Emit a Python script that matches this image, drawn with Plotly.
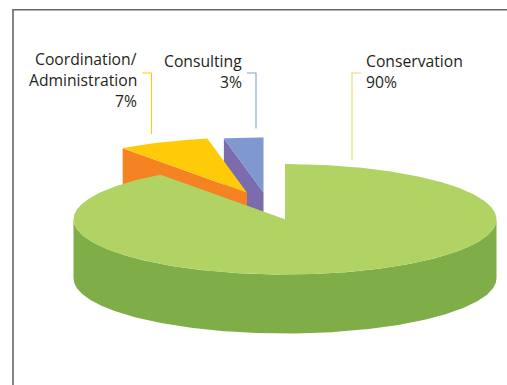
import numpy as np
import plotly.graph_objects as go

# Budget shares
categories = ["Conservation", "Coordination/Administration", "Consulting"]
values = [90, 7, 3]

top_colors = ["#B0D364", "#FFCB08", "#7F98CF"]
side_colors = ["#7FAE48", "#F58322", "#7B6CAD"]
leader_colors = ["#D5E26E", "#FFCB08", "#7FA3DA"]

# Pie projection, in page pixels
CX, CY = 285.0, 219.3
RX, RY = 211.5, 55.2
DEPTH = 59.0
# Pull-out of each slice from the centre
EXPLODE_X = [0.0, -38.0, -21.5]
EXPLODE_Y = [0.0, -26.5, -26.7]


def rim(angle, cx, cy):
    """Point on the tilted rim; angle in degrees clockwise from 12 o'clock."""
    a = np.radians(angle)
    return cx + RX * np.sin(a), cy - RY * np.cos(a)


def arc(start, end, cx, cy):
    ang = np.linspace(start, end, max(2, int(abs(end - start)) * 2))
    xs, ys = rim(ang, cx, cy)
    return list(xs), list(ys)


def polygon(fig, xs, ys, color):
    fig.add_trace(go.Scatter(x=xs, y=ys, mode="lines", fill="toself",
                             fillcolor=color, line=dict(width=0),
                             hoverinfo="skip", showlegend=False))


fig = go.Figure()

# Slice angles follow from the values
total = sum(values)
edges = np.cumsum([0] + values) / total * 360

# Exploded slices go in back to front: Consulting, then Coordination
for i in (2, 1):
    cx, cy = CX + EXPLODE_X[i], CY + EXPLODE_Y[i]
    x0, y0 = rim(edges[i], cx, cy)
    polygon(fig, [x0, cx, cx, x0], [y0, cy, cy + DEPTH, y0 + DEPTH], side_colors[i])
    ax, ay = arc(edges[i], edges[i + 1], cx, cy)
    polygon(fig, [cx] + ax, [cy] + ay, top_colors[i])

# Main slice: front wall, then top face
fx, fy = arc(90, 270, CX, CY)
polygon(fig, fx + fx[::-1], fy + [y + DEPTH for y in fy[::-1]], side_colors[0])
ax, ay = arc(edges[0], edges[1], CX, CY)
polygon(fig, [CX] + ax, [CY] + ay, top_colors[0])

# Leader lines from each label towards its slice
leaders = [
    ([361, 352, 352], [73, 73, 160]),
    ([142, 151.5, 151.5], [73, 73, 134]),
    ([247, 256, 256], [73, 73, 128.5]),
]
for (lx, ly), c in zip(leaders, leader_colors):
    fig.add_trace(go.Scatter(x=lx, y=ly, mode="lines", line=dict(color=c, width=1.1),
                             hoverinfo="skip", showlegend=False))

# Data labels, one annotation per text line for exact leading
label_rows = [
    (["Conservation", f"{values[0]}%"], 363.5, "left", [60.5, 81.5]),
    (["Coordination/", "Administration", f"{values[1]}%"], 138.5, "right", [58.5, 79.5, 100.5]),
    (["Consulting", f"{values[2]}%"], 243.5, "right", [60.5, 81.5]),
]
annotations = []
for lines, x, anchor, ys in label_rows:
    for text, y in zip(lines, ys):
        annotations.append(dict(x=x, y=y, text=text, xref="x", yref="y", showarrow=False,
                                xanchor=anchor, yanchor="middle",
                                font=dict(family="Open Sans", size=15.7, color="#231F20")))

# Frame around the chart area, running off the page on the right and bottom
fig.add_trace(go.Scatter(x=[13, 13, 507], y=[385, 9.7, 9.7], mode="lines",
                         line=dict(color="#666666", width=1.6),
                         hoverinfo="skip", showlegend=False))

hidden = dict(visible=False, fixedrange=True)
fig.update_layout(
    width=507, height=385,
    margin=dict(l=0, r=0, t=0, b=0),
    paper_bgcolor="white", plot_bgcolor="white",
    xaxis=dict(range=[0, 507], **hidden),
    yaxis=dict(range=[385, 0], **hidden),
    annotations=annotations,
)

fig.write_html("out.html", config=dict(displayModeBar=False))
